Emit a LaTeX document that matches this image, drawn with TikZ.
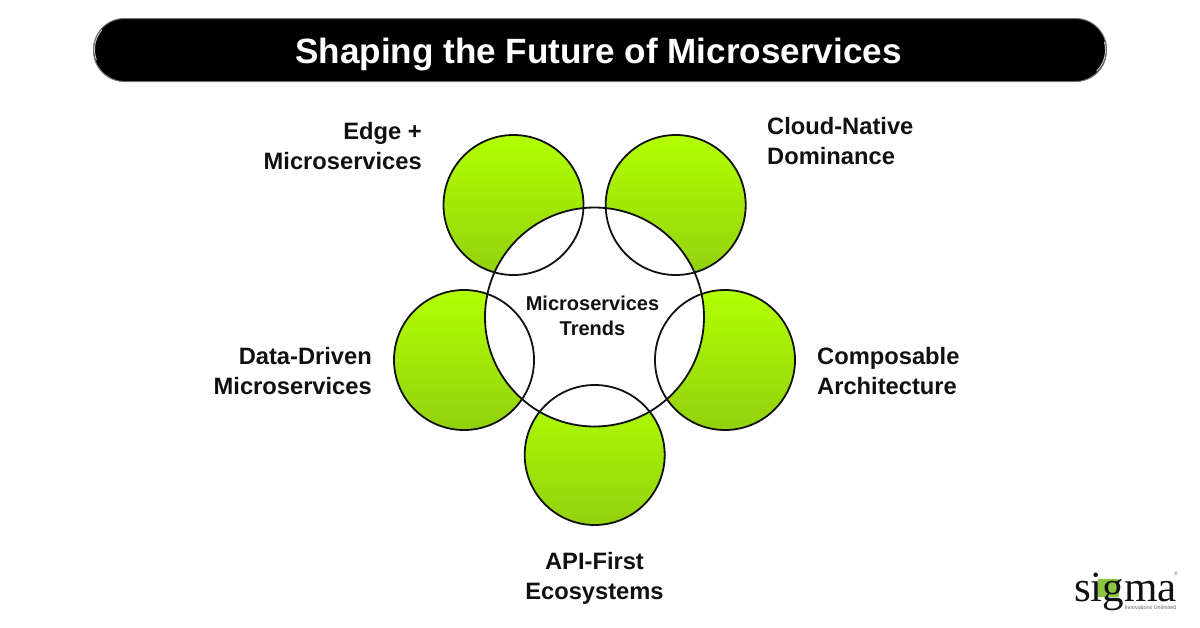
\documentclass[tikz,border=0pt]{standalone}
\usepackage{fontspec}
\setmainfont{Liberation Sans}
\newfontfamily\logofont{Liberation Serif}
\definecolor{limetop}{HTML}{B2FF00}
\definecolor{limebot}{HTML}{92D10F}
\definecolor{inkc}{HTML}{111111}
\definecolor{logogreen}{HTML}{8CC63F}
\tikzset{
  petal/.style={circle,minimum size=140pt,inner sep=0pt,top color=limetop,bottom color=limebot},
  ringline/.style={draw=inkc,line width=1.8pt},
  lab/.style={inner sep=0pt,text=inkc,font=\bfseries\fontsize{23.7}{30}\selectfont},
  shine/.style={draw=black!25,line width=1pt,line cap=round},
  logotext/.style={inner sep=0pt,anchor=base west,text=inkc,font=\logofont\fontsize{43}{43}\selectfont},
}
\begin{document}
\begin{tikzpicture}[x=1pt,y=-1pt]
\useasboundingbox (0,0) rectangle (1200,627);
\fill[white] (0,0) rectangle (1200,627);
% title bar
\node[draw=black!55,line width=1pt,fill=black,rounded corners=31pt,minimum width=1013pt,minimum height=63pt,inner sep=0pt] (bar) at (600,50) {};
\draw[shine] (96.3,59.8) arc[start angle=160,end angle=220,radius=30];
\draw[shine] (1104.5,42) arc[start angle=-15,end angle=45,radius=30];
\node[inner sep=0pt,text=white,font=\bfseries\fontsize{35.1}{40}\selectfont] (title) at (598.5,54.5) {Shaping the Future of Microservices};
% green discs
\node[petal] (tl) at (513.5,205) {};
\node[petal] (tr) at (675.7,205) {};
\node[petal] (ml) at (464,360) {};
\node[petal] (mr) at (725,360) {};
\node[petal] (bt) at (594.7,455) {};
% centre
\node[circle,fill=white,minimum size=219pt,inner sep=0pt] (hub) at (594.5,317) {};
% outlines
\foreach \n in {tl,tr,ml,mr,bt}{\node[circle,ringline,minimum size=140pt,inner sep=0pt] at (\n) {};}
\node[circle,ringline,minimum size=219pt,inner sep=0pt] at (hub) {};
% labels
\node[inner sep=0pt,text=inkc,align=center,font=\bfseries\fontsize{20}{25}\selectfont] (hubt) at (592.5,316) {Microservices\\Trends};
\node[lab,align=right,anchor=east] (l1) at (422,146) {Edge +\\Microservices};
\node[lab,align=left,anchor=west] (l2) at (767,141) {Cloud-Native\\Dominance};
\node[lab,align=right,anchor=east] (l3) at (372,371) {Data-Driven\\Microservices};
\node[lab,align=left,anchor=west] (l4) at (817,371) {Composable\\Architecture};
\node[lab,align=center] (l5) at (594.5,578) {API-First\\Ecosystems};
% logo
\fill[logogreen] (1098,579) rectangle (1119,597);
\node[logotext] (logoa) at (1074,601.5) {sig};
\node[logotext] (logob) at (1124.2,601.5) {ma};
\node[inner sep=0pt,anchor=base west,text=black!60,font=\fontsize{5.4}{6}\selectfont] (tag) at (1124.5,609) {Innovations Unlimited};
\node[inner sep=0pt,text=black!60,font=\fontsize{5}{5}\selectfont] (reg) at (1176,574) {®};
\end{tikzpicture}
\end{document}
